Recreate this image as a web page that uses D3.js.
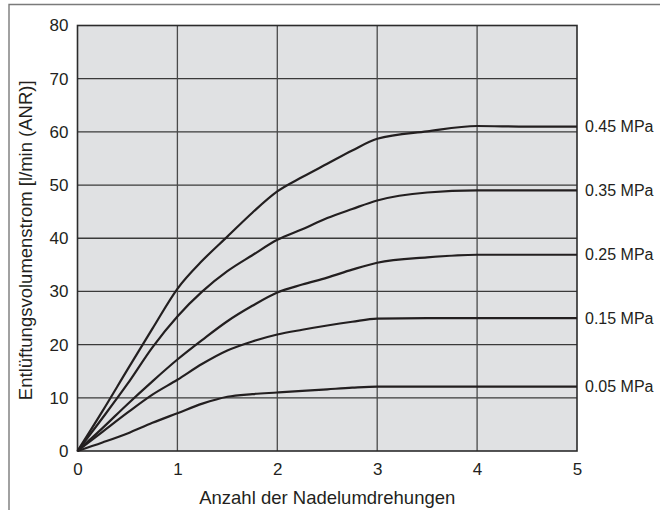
<!DOCTYPE html>
<html>
<head>
<meta charset="utf-8">
<script src="https://cdn.jsdelivr.net/npm/d3@7"></script>
<style>
  html, body { margin: 0; padding: 0; background: #ffffff; }
  svg { display: block; font-family: "Liberation Sans", Arial, Helvetica, sans-serif; }
</style>
</head>
<body>
<svg id="chart" width="660" height="510"></svg>
<script>
// Needle turns (x) sampled along each curve
const turns = [0, 0.25, 0.5, 0.75, 1, 1.25, 1.5, 1.75, 2, 2.25, 2.5, 2.75, 3, 3.5, 4, 4.5, 5];

// Exhaust flow [l/min (ANR)] per supply pressure
const flow045 = [0, 7.5, 15.3, 23, 30.5, 35.8, 40.3, 44.8, 48.8, 51.5, 54, 56.5, 58.7, 60.1, 61.1, 61, 61];
const flow035 = [0, 6.2, 12.6, 19.5, 25.3, 30, 33.8, 36.8, 39.7, 41.7, 43.8, 45.5, 47.1, 48.6, 49, 49, 49];
const flow025 = [0, 4.3, 8.8, 13.1, 17.2, 20.9, 24.4, 27.3, 29.8, 31.3, 32.6, 34.1, 35.4, 36.4, 36.9, 36.9, 36.9];
const flow015 = [0, 3.6, 7.2, 10.6, 13.4, 16.4, 18.9, 20.6, 21.9, 22.8, 23.6, 24.3, 24.9, 25, 25, 25, 25];
const flow005 = [0, 1.6, 3.3, 5.3, 7.1, 8.9, 10.2, 10.7, 11, 11.3, 11.6, 11.9, 12.1, 12.1, 12.1, 12.1, 12.1];

const pressureLabels = ["0.45 MPa", "0.35 MPa", "0.25 MPa", "0.15 MPa", "0.05 MPa"];
const flowSeries = [flow045, flow035, flow025, flow015, flow005];

const xTicks = [0, 1, 2, 3, 4, 5];
const yTicks = [0, 10, 20, 30, 40, 50, 60, 70, 80];

const xTitle = "Anzahl der Nadelumdrehungen";
const yTitle = "Entlüftungsvolumenstrom [l/min (ANR)]";

const svg = d3.select("#chart");

// outer frame (top and left edges visible)
svg.append("path")
  .attr("d", "M9,510 V4.5 H660")
  .attr("fill", "none")
  .attr("stroke", "#7a7a7a")
  .attr("stroke-width", 1.4);

const plot = { left: 77.5, right: 577, top: 25.5, bottom: 451 };

const x = d3.scaleLinear().domain([0, 5]).range([plot.left, plot.right]);
const y = d3.scaleLinear().domain([0, 80]).range([plot.bottom, plot.top]);

// plot background
svg.append("rect")
  .attr("x", plot.left).attr("y", plot.top)
  .attr("width", plot.right - plot.left).attr("height", plot.bottom - plot.top)
  .attr("fill", "#e0e1e3");

// grid
const grid = svg.append("g");
grid.selectAll("line.h").data(yTicks.slice(1, -1)).enter().append("line")
  .attr("x1", plot.left).attr("x2", plot.right)
  .attr("y1", d => y(d)).attr("y2", d => y(d))
  .attr("stroke", "#3a3a3a").attr("stroke-width", 1.3);
grid.selectAll("line.v").data(xTicks.slice(1, -1)).enter().append("line")
  .attr("y1", plot.top).attr("y2", plot.bottom)
  .attr("x1", d => x(d)).attr("x2", d => x(d))
  .attr("stroke", "#4a4a4a").attr("stroke-width", 1.3);

// plot border
svg.append("rect")
  .attr("x", plot.left).attr("y", plot.top)
  .attr("width", plot.right - plot.left).attr("height", plot.bottom - plot.top)
  .attr("fill", "none")
  .attr("stroke", "#2b2b2b").attr("stroke-width", 1.6);

// axes (labels only; the frame carries the lines)
const xAxis = d3.axisBottom(x).tickValues(xTicks).tickFormat(d3.format("d")).tickSize(0).tickPadding(12);
const yAxis = d3.axisLeft(y).tickValues(yTicks).tickFormat(d3.format("d")).tickSize(0).tickPadding(9);

const gx = svg.append("g").attr("transform", `translate(0,${plot.bottom})`).call(xAxis);
const gy = svg.append("g").attr("transform", `translate(${plot.left},0)`).call(yAxis);
[gx, gy].forEach(g => {
  g.select(".domain").remove();
  g.selectAll("text").attr("font-size", 17).attr("fill", "#231f20")
    .attr("font-family", "'Liberation Sans', Arial, Helvetica, sans-serif");
});

// curves
const line = d3.line()
  .x((d, i) => x(turns[i]))
  .y(d => y(d))
  .curve(d3.curveMonotoneX);

svg.append("g").selectAll("path").data(flowSeries).enter().append("path")
  .attr("d", d => line(d))
  .attr("fill", "none")
  .attr("stroke", "#231f20")
  .attr("stroke-width", 2.2)
  .attr("stroke-linejoin", "round");

// pressure labels at curve ends
svg.append("g").selectAll("text").data(flowSeries).enter().append("text")
  .attr("x", plot.right + 8)
  .attr("y", d => y(d[d.length - 1]))
  .attr("dy", "0.35em")
  .attr("font-size", 16)
  .attr("fill", "#231f20")
  .text((d, i) => pressureLabels[i]);

// axis titles
svg.append("text")
  .attr("x", (plot.left + plot.right) / 2)
  .attr("y", 504)
  .attr("text-anchor", "middle")
  .attr("font-size", 18.5)
  .attr("fill", "#231f20")
  .text(xTitle);

svg.append("text")
  .attr("transform", `translate(32,${(plot.top + plot.bottom) / 2 + 2}) rotate(-90)`)
  .attr("text-anchor", "middle")
  .attr("font-size", 18.5)
  .attr("fill", "#231f20")
  .text(yTitle);
</script>
</body>
</html>
